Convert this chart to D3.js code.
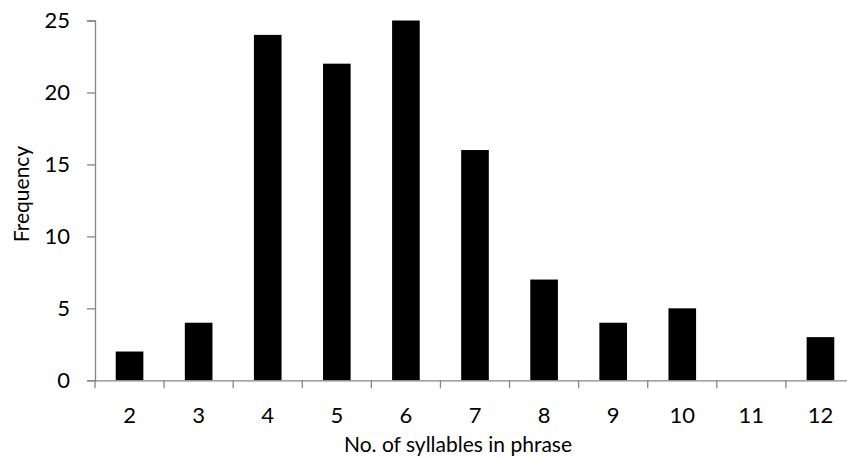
<!DOCTYPE html>
<html><head><meta charset="utf-8">
<script src="https://cdn.jsdelivr.net/npm/d3@7"></script>
<style>body{margin:0;background:#fff;overflow:hidden}svg{display:block}text{font-family:Lato,"Open Sans",sans-serif;fill:#000}</style>
</head><body>
<script>
const categories = ["2","3","4","5","6","7","8","9","10","11","12"];
const frequencies = [2,4,24,22,25,16,7,4,5,0,3];
const yTicks = [0,5,10,15,20,25];
const xTitle = "No. of syllables in phrase";
const yTitle = "Frequency";

(function(){
const W = 847, H = 459;
const svg = d3.select("body").append("svg").attr("width", W).attr("height", H);
const mLeft = 95, mRight = 855, mTop = 20.5, mBottom = 380.3;

const xb = d3.scaleBand().domain(categories).range([mLeft, mRight]);
const y = d3.scaleLinear().domain([0, 25]).range([mBottom, mTop]);

svg.append("g").selectAll("rect").data(categories).join("rect")
  .attr("x", d => xb(d) + (xb.bandwidth() - xb.bandwidth()/2.5)/2)
  .attr("width", xb.bandwidth()/2.5)
  .attr("y", (d,i) => y(frequencies[i]))
  .attr("height", (d,i) => y(0) - y(frequencies[i]))
  .attr("fill", "#000");

// y axis
const ya = svg.append("g").attr("transform", `translate(${mLeft},0)`)
  .call(d3.axisLeft(y).tickValues(yTicks).tickSize(8).tickPadding(17));
ya.select(".domain").attr("stroke", "#868686").attr("stroke-width", 1.3);
ya.selectAll(".tick line").attr("stroke", "#868686").attr("stroke-width", 1.3);
ya.selectAll(".tick text").style("font-size", "22px").attr("font-family", null);

// x axis
const xa = svg.append("g").attr("transform", `translate(0,${mBottom})`)
  .call(d3.axisBottom(xb).tickSize(0).tickPadding(27));
xa.select(".domain").attr("stroke", "#868686").attr("stroke-width", 1.3);
xa.selectAll(".tick text").style("font-size", "22px").attr("font-family", null);
// boundary ticks
svg.append("g").selectAll("line").data(categories.concat(["_end"])).join("line")
  .attr("x1", (d,i) => mLeft + i*xb.step()).attr("x2", (d,i) => mLeft + i*xb.step())
  .attr("y1", mBottom).attr("y2", mBottom + 8)
  .attr("stroke", "#868686").attr("stroke-width", 1.3);

svg.append("text").attr("x", 458).attr("y", 452)
  .attr("text-anchor", "middle").style("font-size", "21px").text(xTitle);
svg.append("text").attr("transform", `translate(29,194) rotate(-90)`)
  .attr("text-anchor", "middle").style("font-size", "21px").text(yTitle);
})();
</script>
</body></html>
